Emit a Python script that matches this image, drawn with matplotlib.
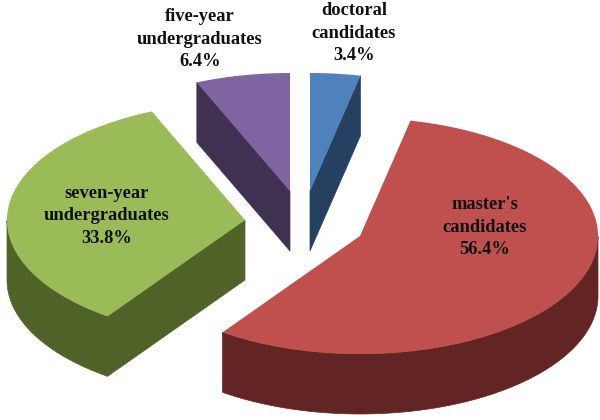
import numpy as np
import matplotlib
matplotlib.use('Agg')
import matplotlib.pyplot as plt

# Shares in clockwise order starting at 12 o'clock
categories = ['doctoral\ncandidates', "master's\ncandidates", 'seven-year\nundergraduates', 'five-year\nundergraduates']
shares = [3.4, 56.4, 33.8, 6.4]

top_colors = ['#4F81BD', '#C0504D', '#9BBB59', '#8064A2']
side_colors = ['#254061', '#632523', '#4F6228', '#403152']

# Layout in pixels: where each exploded slice has its tip, and its label centre
tips = [(310, 191), (360, 236), (245, 220), (290, 191)]
label_pos = [(354, 33), (485, 227), (107, 216), (200, 39)]

rx = 238
ry = 118
depth = 60


def rim(tip, angle):
    # angle in degrees, clockwise from the top of the pie
    rad = np.radians(angle)
    return tip[0] + rx * np.sin(rad), tip[1] - ry * np.cos(rad)


fig = plt.figure(figsize=(6, 4.2), dpi=100)
ax = fig.add_axes([0, 0, 1, 1])
ax.set_xlim(0, 600)
ax.set_ylim(420, 0)
ax.axis('off')

edges = np.cumsum([0] + shares) / sum(shares) * 360

for i in range(len(shares)):
    a0, a1 = edges[i], edges[i + 1]
    tip = tips[i]

    # outer wall, only the part that faces the viewer
    lo, hi = max(a0, 90), min(a1, 270)
    if lo < hi:
        x, y = rim(tip, np.linspace(lo, hi, 120))
        ax.fill(np.r_[x, x[::-1]], np.r_[y, y[::-1] + depth], color=side_colors[i], lw=0.5)

    # flat cut walls
    if 180 < a0 < 360:
        x, y = rim(tip, a0)
        ax.fill([tip[0], x, x, tip[0]], [tip[1], y, y + depth, tip[1] + depth], color=side_colors[i], lw=0.5)
    if 0 < a1 < 180:
        x, y = rim(tip, a1)
        ax.fill([tip[0], x, x, tip[0]], [tip[1], y, y + depth, tip[1] + depth], color=side_colors[i], lw=0.5)

    # top face
    x, y = rim(tip, np.linspace(a0, a1, 200))
    ax.fill(np.r_[tip[0], x], np.r_[tip[1], y], color=top_colors[i], lw=0)

    ax.text(label_pos[i][0], label_pos[i][1], '%s\n%.1f%%' % (categories[i], shares[i]),
            ha='center', va='center', family='Liberation Serif', fontweight='bold',
            fontsize=13.3, color='#111111', linespacing=1.42)

fig.savefig('out.png', dpi=100)
